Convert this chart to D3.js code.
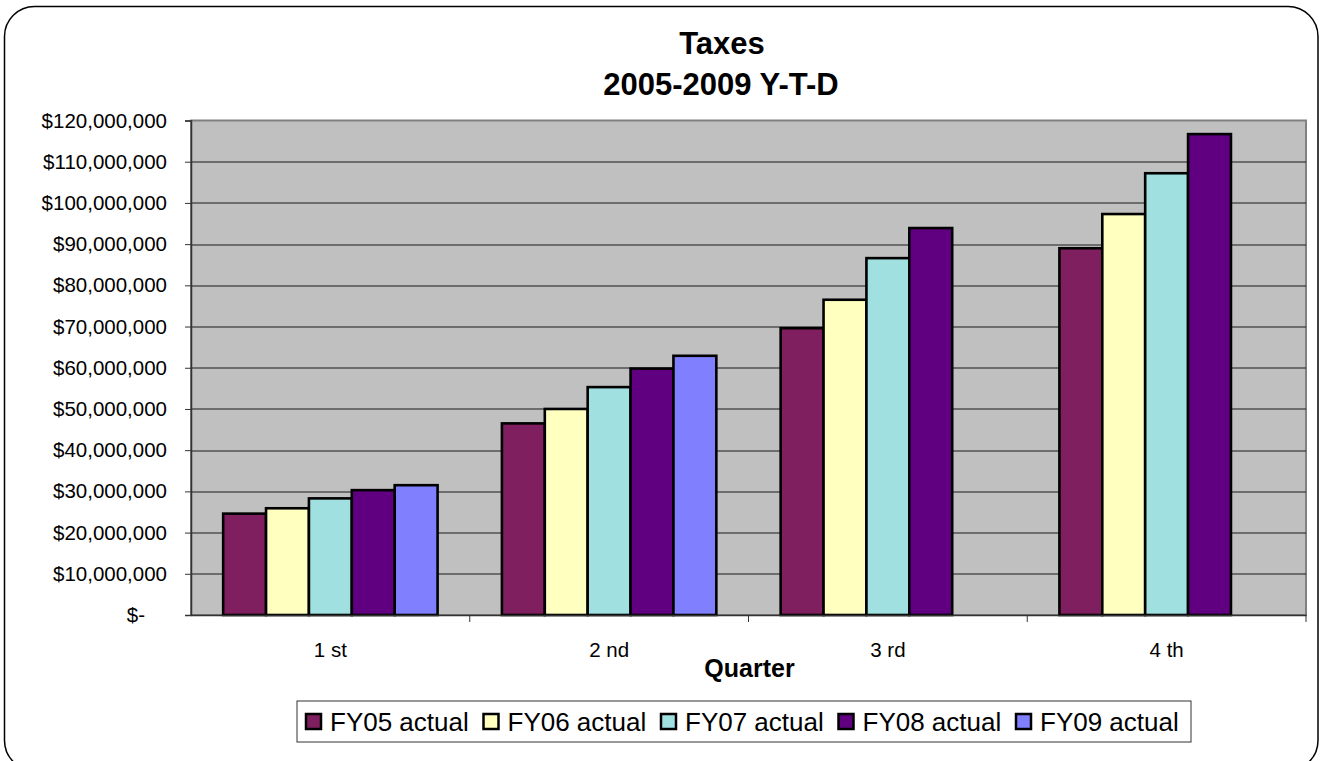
<!DOCTYPE html>
<html>
<head>
<meta charset="utf-8">
<script src="https://cdn.jsdelivr.net/npm/d3@7"></script>
<style>
  body { margin:0; background:#fff; }
  svg { display:block; font-family: Arial, "Liberation Sans", sans-serif; }
</style>
</head>
<body>
<svg></svg>
<script>
// quarters on the x axis
var quarters = ["1 st", "2 nd", "3 rd", "4 th"]
var seriesNames = ["FY05 actual", "FY06 actual", "FY07 actual", "FY08 actual", "FY09 actual"]
var seriesColors = ["#7f1f5f", "#ffffc0", "#a0e0e0", "#600080", "#8080ff"]

// year-to-date taxes, dollars
var fy05 = [24600000, 46500000, 69600000, 89000000]
var fy06 = [25900000, 50000000, 76500000, 97300000]
var fy07 = [28300000, 55300000, 86600000, 107200000]
var fy08 = [30300000, 59800000, 93900000, 116700000]
var fy09 = [31500000, 62900000, null, null]

var yTicks = [0, 10000000, 20000000, 30000000, 40000000, 50000000, 60000000,
              70000000, 80000000, 90000000, 100000000, 110000000, 120000000]

var screen = {width:1320, height:761}
var margins = {top:120.5, bottom:146, left:191, right:14}

var setup = function()
{
    var svg = d3.select("svg")
        .attr("width", screen.width)
        .attr("height", screen.height)

    var width = screen.width - margins.left - margins.right
    var height = screen.height - margins.top - margins.bottom

    var seriesValues = [fy05, fy06, fy07, fy08, fy09]

    // outer frame
    svg.append("rect")
        .attr("x", 4.5).attr("y", 6.5)
        .attr("width", 1313.5).attr("height", 764)
        .attr("rx", 30).attr("ry", 30)
        .attr("fill", "none")
        .attr("stroke", "#000")
        .attr("stroke-width", 1.5)

    var xScale = d3.scaleBand()
        .domain(quarters)
        .range([0, width])
    var x1 = d3.scaleBand()
        .domain(seriesNames)
        .range([0, xScale.bandwidth()])
        .paddingInner(0)
        .paddingOuter(0.75)
    var yScale = d3.scaleLinear()
        .domain([0, 120000000])
        .range([height, 0])
    var cScale = d3.scaleOrdinal()
        .domain(seriesNames)
        .range(seriesColors)

    var graph = svg.append("g").attr("id", "graph")
        .attr("transform", "translate(" + margins.left + "," + margins.top + ")")

    // plot area
    graph.append("rect")
        .attr("width", width).attr("height", height)
        .attr("fill", "#c0c0c0")
        .attr("stroke", "#808080")
        .attr("stroke-width", 2)

    // gridlines
    graph.append("g")
        .selectAll("line")
        .data(yTicks.slice(1, -1))
        .enter()
        .append("line")
        .attr("x1", 0).attr("x2", width)
        .attr("y1", function(d){ return Math.round(yScale(d)) + 0.5 })
        .attr("y2", function(d){ return Math.round(yScale(d)) + 0.5 })
        .attr("stroke", "#1a1a1a")
        .attr("stroke-width", 1)

    // bars
    var rows = []
    quarters.forEach(function(q, qi){
        seriesNames.forEach(function(s, si){
            if (seriesValues[si][qi] != null)
                rows.push({quarter:q, series:s, value:seriesValues[si][qi]})
        })
    })

    graph.append("g")
        .selectAll("rect")
        .data(rows)
        .enter()
        .append("rect")
        .attr("x", function(d){ return xScale(d.quarter) + x1(d.series) })
        .attr("y", function(d){ return yScale(d.value) })
        .attr("width", x1.bandwidth())
        .attr("height", function(d){ return height - yScale(d.value) })
        .attr("fill", function(d){ return cScale(d.series) })
        .attr("stroke", "#000")
        .attr("stroke-width", 2.6)

    // y axis
    var fmt = d3.format(",")
    var yAxis = d3.axisLeft(yScale)
        .tickValues(yTicks)
        .tickSize(6)
        .tickPadding(18)
        .tickFormat(function(d){ return d == 0 ? "$-" : "$" + fmt(d) })
    var yg = graph.append("g").attr("id", "yAxis").call(yAxis)
    yg.select(".domain").attr("stroke", "#333").attr("stroke-width", 1.5)
    yg.selectAll(".tick line").attr("stroke", "#333")
    yg.selectAll(".tick text")
        .attr("font-size", 20.5)
        .attr("fill", "#000")
        .attr("font-family", "Arial, 'Liberation Sans', sans-serif")
    yg.selectAll(".tick text").filter(function(d){ return d == 0 }).attr("dx", -22)

    // x axis: ticks sit between the quarters
    var xAxis = d3.axisBottom(xScale).tickSize(0).tickPadding(27)
    var xg = graph.append("g").attr("id", "xAxis")
        .attr("transform", "translate(0," + height + ")")
        .call(xAxis)
    xg.select(".domain").attr("stroke", "#333").attr("stroke-width", 1.5)
    xg.selectAll(".tick text")
        .attr("font-size", 20.5)
        .attr("fill", "#000")
        .attr("font-family", "Arial, 'Liberation Sans', sans-serif")
    xg.selectAll(".sep")
        .data(quarters)
        .enter()
        .append("line")
        .attr("x1", function(d){ return xScale(d) + xScale.bandwidth() })
        .attr("x2", function(d){ return xScale(d) + xScale.bandwidth() })
        .attr("y1", 0).attr("y2", 7)
        .attr("stroke", "#333")

    // titles
    svg.append("text")
        .attr("x", 722).attr("y", 54)
        .attr("text-anchor", "middle")
        .attr("font-size", 31).attr("font-weight", "bold")
        .text("Taxes")
    svg.append("text")
        .attr("x", 721).attr("y", 95)
        .attr("text-anchor", "middle")
        .attr("font-size", 31).attr("font-weight", "bold")
        .text("2005-2009 Y-T-D")
    svg.append("text")
        .attr("x", margins.left + width / 2 + 1).attr("y", 677)
        .attr("text-anchor", "middle")
        .attr("font-size", 25).attr("font-weight", "bold")
        .text("Quarter")

    // legend
    var legend = svg.append("g").attr("id", "legend")
        .attr("transform", "translate(297,701)")
    legend.append("rect")
        .attr("width", 894).attr("height", 41)
        .attr("fill", "#fff")
        .attr("stroke", "#333")
        .attr("stroke-width", 1)
    var items = legend.selectAll(".item")
        .data(seriesNames)
        .enter()
        .append("g")
        .attr("class", "item")
        .attr("transform", function(d, i){ return "translate(" + (9 + i * 177.5) + ",0)" })
    items.append("rect")
        .attr("x", 0).attr("y", 13)
        .attr("width", 15).attr("height", 15)
        .attr("fill", function(d){ return cScale(d) })
        .attr("stroke", "#000")
        .attr("stroke-width", 2.5)
    items.append("text")
        .attr("x", 24).attr("y", 30)
        .attr("font-size", 26)
        .text(function(d){ return d })
}

setup()
</script>
</body>
</html>
